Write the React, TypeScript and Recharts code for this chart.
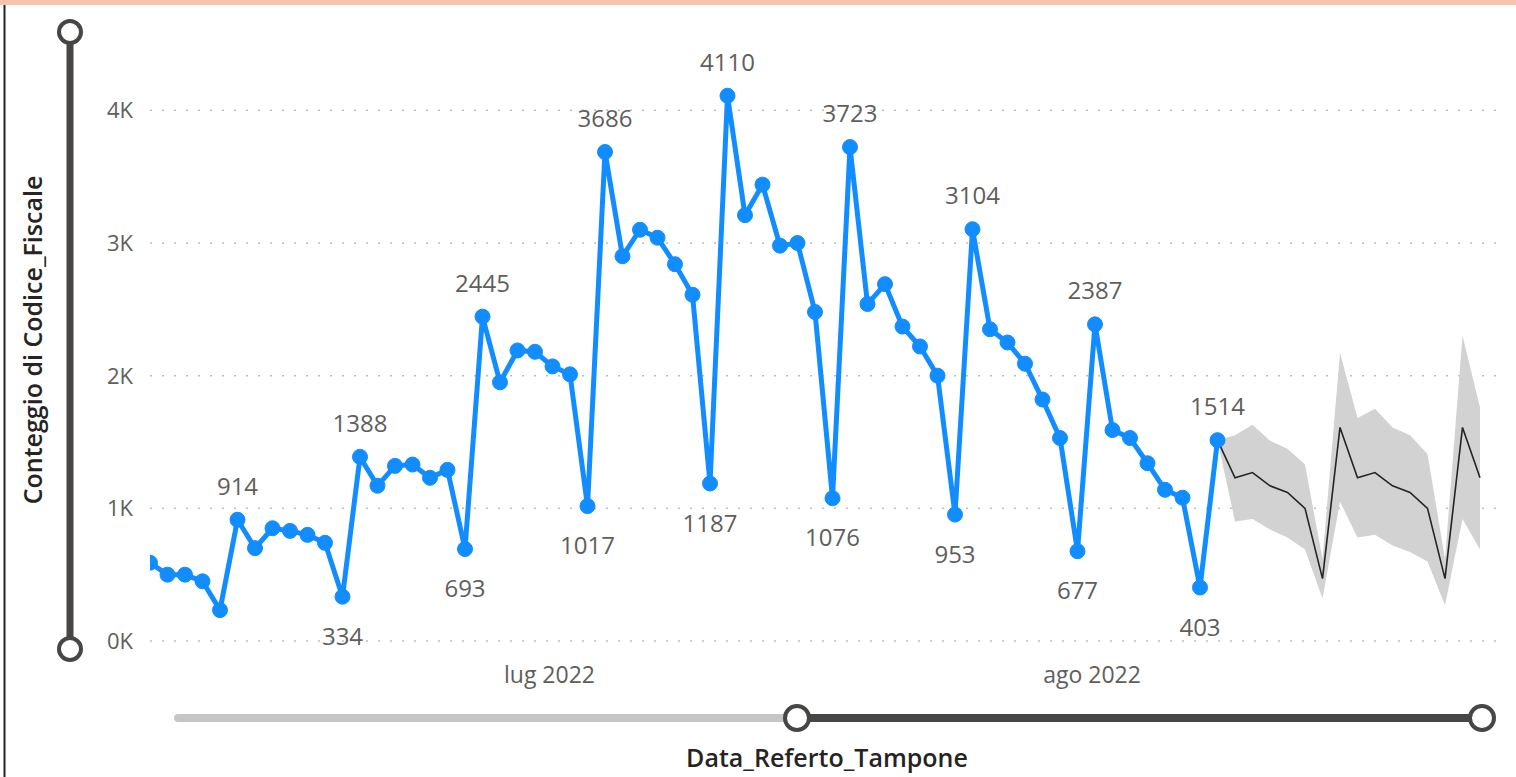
import React from "react";
import {
  ComposedChart,
  Line,
  Area,
  XAxis,
  YAxis,
  CartesianGrid,
  LabelList,
} from "recharts";

// conteggio giornaliero (8 giu 2022 -> 8 ago 2022)
const actual = [
  590, 500, 500, 450, 233, 914, 700, 850, 830, 800, 740, 334, 1388, 1170, 1320,
  1330, 1230, 1290, 693, 2445, 1950, 2190, 2180, 2070, 2010, 1017, 3686, 2900,
  3100, 3040, 2840, 2610, 1187, 4110, 3210, 3440, 2980, 3000, 2480, 1076, 3723,
  2540, 2690, 2370, 2220, 2000, 953, 3104, 2350, 2250, 2090, 1820, 1530, 677,
  2387, 1590, 1530, 1340, 1140, 1080, 403, 1514,
];

// previsione (dal giorno 61 in poi)
const forecast = [1514, 1230, 1270, 1170, 1120, 1000, 470, 1610, 1230, 1270, 1170, 1120, 1000, 470, 1610, 1230];
const forecastLow = [1514, 900, 920, 840, 780, 690, 320, 1050, 780, 800, 720, 670, 600, 270, 920, 690];
const forecastHigh = [1514, 1550, 1630, 1510, 1450, 1330, 620, 2170, 1680, 1750, 1610, 1550, 1410, 620, 2300, 1760];

const labelAbove = [5, 12, 19, 26, 33, 40, 47, 54, 61];
const labelBelow = [11, 18, 25, 32, 39, 46, 53, 60];

const tickIndex = [23, 54];
const tickLabels = ["lug 2022", "ago 2022"];
const yTicks = [0, 1000, 2000, 3000, 4000];

const FONT = "'Segoe UI', 'Open Sans', sans-serif";
const BLUE = "#118DFF";
const DARK = "#484644";

const data = (() => {
  const rows: any[] = [];
  const n = actual.length - 1 + forecast.length;
  for (let i = 0; i < n; i++) {
    const row: any = { i };
    if (i < actual.length) row.actual = actual[i];
    const f = i - (actual.length - 1);
    if (f >= 0) {
      row.forecast = forecast[f];
      row.band = [forecastLow[f], forecastHigh[f]];
    }
    rows.push(row);
  }
  return rows;
})();

const PointLabel = (props: any) => {
  const { x, y, value, index } = props;
  if (value == null) return null;
  let ty: number | null = null;
  if (labelAbove.includes(index)) ty = y - 25;
  if (labelBelow.includes(index)) ty = y + 48;
  if (ty == null) return null;
  return (
    <text x={x} y={ty} textAnchor="middle" fontSize={24} fill="#605E5C" fontFamily={FONT}>
      {value}
    </text>
  );
};

const XTick = (props: any) => {
  const { x, payload } = props;
  const k = tickIndex.indexOf(payload.value);
  return (
    <text x={x - 3} y={683} textAnchor="middle" fontSize={23} fill="#605E5C" fontFamily={FONT}>
      {tickLabels[k]}
    </text>
  );
};

const YTick = (props: any) => {
  const { y, payload } = props;
  return (
    <text x={133} y={y + 8} textAnchor="end" fontSize={22} fill="#605E5C" fontFamily={FONT}>
      {payload.value / 1000 + "K"}
    </text>
  );
};

export default function App() {
  return (
    <div style={{ position: "absolute", left: 0, top: 0, width: 1516, height: 777, background: "#fff", overflow: "hidden" }}>
      <ComposedChart
        width={1516}
        height={777}
        data={data}
        margin={{ top: 44, right: 15, bottom: 0, left: 0 }}
      >
        <CartesianGrid
          vertical={false}
          horizontalValues={yTicks}
          stroke="#BDBDBD"
          strokeDasharray="2 10"
          strokeWidth={1.5}
        />
        <XAxis
          dataKey="i"
          type="number"
          domain={[0, 77.2]}
          allowDataOverflow
          ticks={tickIndex}
          tick={<XTick />}
          axisLine={false}
          tickLine={false}
          height={136}
        />
        <YAxis
          type="number"
          domain={[0, 4500]}
          ticks={yTicks}
          tick={<YTick />}
          axisLine={false}
          tickLine={false}
          width={150}
        />
        <Area
          dataKey="band"
          stroke="none"
          fill="#D2D2D2"
          fillOpacity={1}
          isAnimationActive={false}
          connectNulls={false}
        />
        <Line
          dataKey="forecast"
          stroke="#252423"
          strokeWidth={1.6}
          dot={false}
          isAnimationActive={false}
        />
        <Line
          dataKey="actual"
          stroke={BLUE}
          strokeWidth={5}
          dot={{ r: 7.5, fill: BLUE, stroke: BLUE, strokeWidth: 1 }}
          isAnimationActive={false}
        >
          <LabelList dataKey="actual" content={<PointLabel />} />
        </Line>
      </ComposedChart>
      <svg
        width={1516}
        height={777}
        style={{ position: "absolute", left: 0, top: 0, pointerEvents: "none" }}
      >
        <rect x={0} y={0} width={1516} height={5} fill="#F4C4AE" />
        <line x1={4.5} y1={5} x2={4.5} y2={777} stroke="#222" strokeWidth={2} />
        {/* slider verticale */}
        <line x1={70} y1={40} x2={70} y2={640} stroke={DARK} strokeWidth={7} />
        <circle cx={70} cy={32} r={11} fill="#fff" stroke={DARK} strokeWidth={4} />
        <circle cx={70} cy={649} r={11} fill="#fff" stroke={DARK} strokeWidth={4} />
        {/* slider orizzontale */}
        <line x1={178} y1={718} x2={797} y2={718} stroke="#C8C6C4" strokeWidth={8} strokeLinecap="round" />
        <line x1={797} y1={718} x2={1482} y2={718} stroke={DARK} strokeWidth={8} />
        <circle cx={797} cy={718} r={12} fill="#fff" stroke={DARK} strokeWidth={4} />
        <circle cx={1482} cy={718} r={12} fill="#fff" stroke={DARK} strokeWidth={4} />
        <text
          x={42}
          y={340}
          transform="rotate(-90 42 340)"
          textAnchor="middle"
          fontSize={25}
          fontWeight={600}
          fill="#252423"
          fontFamily={FONT}
        >
          Conteggio di Codice_Fiscale
        </text>
        <text x={827} y={767} textAnchor="middle" fontSize={25} fontWeight={600} fill="#252423" fontFamily={FONT}>
          Data_Referto_Tampone
        </text>
      </svg>
    </div>
  );
}
